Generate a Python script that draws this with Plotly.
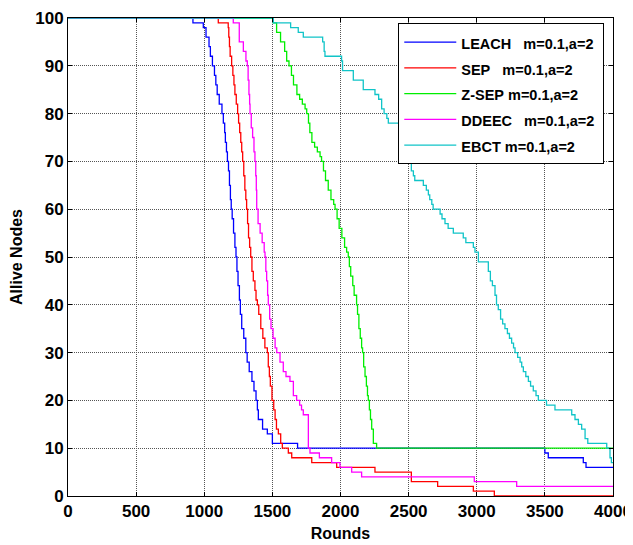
import plotly.graph_objects as go

# alive nodes per round (step changes: round where the count starts)
leach_x = [0, 917, 993, 1013, 1035, 1045, 1060, 1075, 1085, 1095, 1110, 1130, 1140, 1150, 1155, 1163,
           1170, 1178, 1185, 1192, 1198, 1205, 1215, 1225, 1233, 1240, 1248, 1258, 1265, 1275, 1290,
           1305, 1315, 1330, 1350, 1365, 1380, 1390, 1397, 1428, 1463, 1500, 1685, 3500, 3525, 3782,
           3802, 4000]
leach_y = [100, 99, 98, 96, 94, 92, 90, 88, 86, 84, 82, 80, 78, 76, 74, 72,
           70, 68, 65, 62, 60, 58, 55, 52, 50, 47, 44, 41, 38, 35, 33,
           30, 28, 26, 24, 22, 20, 18, 16, 14, 13, 11, 10, 9, 8, 7,
           6, 6]

sep_x = [0, 1103, 1176, 1180, 1185, 1190, 1201, 1210, 1218, 1225, 1235, 1245, 1252, 1260, 1268, 1275,
         1282, 1290, 1298, 1305, 1311, 1318, 1325, 1333, 1341, 1350, 1360, 1372, 1380, 1390, 1400,
         1415, 1430, 1445, 1463, 1470, 1478, 1485, 1497, 1510, 1520, 1530, 1544, 1561, 1573, 1617,
         1642, 1789, 1972, 2253, 2520, 2713, 2975, 3129, 4000]
sep_y = [100, 99, 98, 96, 94, 92, 90, 88, 86, 84, 82, 80, 78, 76, 74, 72,
         70, 67, 64, 62, 60, 57, 54, 52, 50, 47, 45, 43, 41, 40, 38,
         35, 33, 31, 30, 27, 25, 23, 20, 18, 16, 14, 13, 11, 10, 9,
         8, 7, 6, 5, 3, 2, 1, 0, 0]

zsep_x = [0, 1507, 1531, 1560, 1590, 1605, 1622, 1640, 1655, 1680, 1700, 1720, 1740, 1752, 1765, 1775,
          1790, 1810, 1830, 1850, 1861, 1875, 1890, 1910, 1930, 1950, 1960, 1975, 1990, 2010, 2030,
          2045, 2057, 2065, 2075, 2090, 2100, 2118, 2125, 2135, 2145, 2155, 2162, 2170, 2180, 2190,
          2198, 2204, 2212, 2220, 2229, 2241, 2265, 4000]
zsep_y = [100, 99, 97, 95, 93, 91, 90, 88, 86, 84, 83, 82, 81, 80, 78, 76,
          74, 73, 72, 71, 70, 68, 66, 64, 62, 61, 60, 58, 56, 54, 52,
          51, 50, 48, 46, 44, 42, 40, 38, 35, 33, 31, 30, 27, 25, 23,
          21, 20, 18, 16, 14, 11, 10, 10]

ddeec_x = [0, 1213, 1257, 1287, 1306, 1316, 1322, 1328, 1333, 1336, 1345, 1355, 1365, 1372, 1378, 1382,
           1385, 1395, 1410, 1425, 1440, 1446, 1452, 1458, 1465, 1470, 1480, 1490, 1505, 1520, 1532,
           1556, 1580, 1600, 1629, 1654, 1678, 1700, 1714, 1727, 1764, 1776, 1845, 1935, 1996, 2082,
           2155, 2982, 3293, 4000]
ddeec_y = [100, 99, 95, 93, 91, 90, 87, 84, 82, 80, 77, 75, 72, 70, 67, 64,
           60, 57, 55, 53, 51, 50, 47, 45, 42, 40, 37, 35, 33, 31, 30,
           28, 26, 25, 24, 21, 20, 19, 18, 17, 10, 9, 8, 7, 6, 5,
           4, 3, 2, 2]

ebct_x = [0, 1507, 1634, 1690, 1727, 1869, 1880, 1886, 2008, 2015, 2094, 2167, 2253, 2280, 2302, 2320,
          2340, 2351, 2430, 2450, 2470, 2490, 2499, 2520, 2535, 2545, 2608, 2630, 2645, 2655, 2670,
          2680, 2731, 2745, 2767, 2790, 2828, 2901, 2920, 2975, 2987, 3012, 3085, 3100, 3115, 3134,
          3145, 3158, 3175, 3190, 3207, 3225, 3240, 3256, 3270, 3281, 3300, 3318, 3330, 3342, 3360,
          3379, 3395, 3415, 3435, 3452, 3512, 3574, 3697, 3721, 3746, 3770, 3795, 3815, 3954, 3978,
          3988, 4000]
ebct_y = [100, 99, 98, 97, 96, 95, 93, 92, 91, 89, 87, 85, 84, 83, 81, 80,
          79, 78, 77, 75, 73, 71, 70, 68, 67, 66, 65, 64, 63, 62, 61,
          60, 59, 58, 57, 56, 55, 54, 53, 52, 51, 49, 47, 45, 44, 42,
          40, 39, 37, 36, 35, 34, 33, 32, 31, 30, 29, 28, 27, 26, 25,
          24, 23, 22, 21, 20, 19, 18, 17, 16, 15, 14, 12, 11, 10, 8,
          7, 7]

sp = "\u00a0"
names = ["LEACH" + sp * 3 + "m=0.1,a=2" + sp, "SEP" + sp * 3 + "m=0.1,a=2", "Z-SEP" + sp + "m=0.1,a=2",
         "DDEEC" + sp * 3 + "m=0.1,a=2", "EBCT" + sp + "m=0.1,a=2"]
colors = ["#0000FF", "#FF0000", "#00EE00", "#FF00FF", "#10C4C8"]
series = [(leach_x, leach_y), (sep_x, sep_y), (zsep_x, zsep_y), (ddeec_x, ddeec_y), (ebct_x, ebct_y)]

x_ticks = list(range(0, 4001, 500))
y_ticks = list(range(0, 101, 10))

tick_font = dict(family="Liberation Sans, Arial", size=17, color="black", weight="bold")
title_font = dict(family="Liberation Sans, Arial", size=16, color="black", weight="bold")

fig = go.Figure()
for i, (xs, ys) in enumerate(series):
    # legend rows are spaced by the legend font size, text drawn a bit smaller
    fig.add_trace(go.Scatter(x=xs, y=ys, mode="lines",
                             name='<span style="font-size:14.5px">' + names[i] + "</span>",
                             line=dict(color=colors[i], width=1.3, shape="hv")))

axis_style = dict(showline=True, linecolor="black", linewidth=1, mirror="ticks",
                  ticks="inside", ticklen=4, tickcolor="black", tickfont=tick_font,
                  showgrid=True, gridcolor="#555555", gridwidth=1, griddash="1px,1px",
                  zeroline=False, automargin=False)

fig.update_xaxes(range=[0, 4000], tickvals=x_ticks, title=dict(text="Rounds", font=title_font, standoff=7),
                 **axis_style)
fig.update_yaxes(range=[0, 100], tickvals=y_ticks, title=dict(text="Allive Nodes", font=title_font, standoff=9),
                 **axis_style)

# page body has an 8px margin, so the figure is sized to fit the window
fig.update_layout(
    width=625, height=537,
    margin=dict(l=60, r=20, t=10, b=49),
    plot_bgcolor="white", paper_bgcolor="white",
    legend=dict(x=0.606, y=0.989, xanchor="left", yanchor="top",
                bordercolor="black", borderwidth=1, bgcolor="white",
                font=dict(family="Liberation Sans, Arial", size=17.5, color="black", weight="bold"),
                itemwidth=52),
    showlegend=True,
)

fig.write_html("out.html")
